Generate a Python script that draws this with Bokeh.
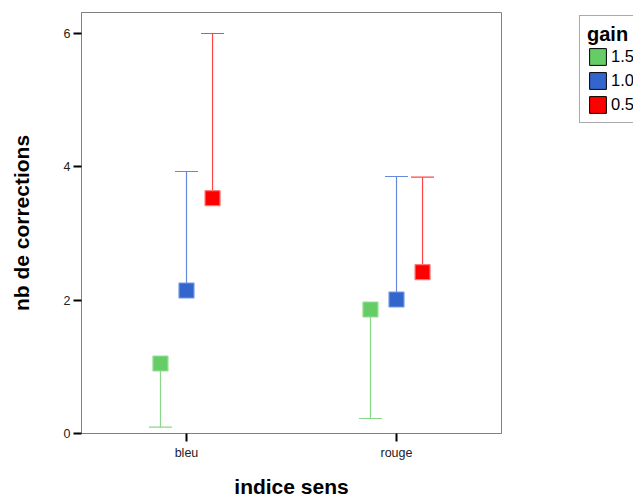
from bokeh.plotting import figure
from bokeh.layouts import row
from bokeh.models import FactorRange, Range1d, ColumnDataSource, Legend, LegendItem, FixedTicker
from bokeh.transform import dodge
from bokeh.embed import file_html
from bokeh.resources import INLINE

# ---- data ----
categories = ["bleu", "rouge"]
gains = ["1.5", "1.0", "0.5"]
mean_15 = [1.05, 1.86]
end_15 = [0.095, 0.225]     # whisker end (drawn downward)
mean_10 = [2.145, 2.01]
end_10 = [3.93, 3.855]      # whisker end (drawn upward)
mean_05 = [3.53, 2.42]
end_05 = [6.0, 3.845]
y_ticks = [0, 2, 4, 6]

FONT = "Liberation Sans"

p = figure(width=577, height=500, output_backend="svg", toolbar_location=None,
           x_range=FactorRange(factors=categories), y_range=Range1d(0, 6.315),
           min_border_left=81, min_border_right=76, min_border_top=12, min_border_bottom=67)

p.xgrid.visible = False
p.ygrid.visible = False
p.outline_line_color = "#808080"
p.outline_line_width = 1
p.background_fill_color = "white"
p.border_fill_color = "white"

series = [
    (mean_15, end_15, "#66CC66", "#99DD99", "#88D888", -0.124),
    (mean_10, end_10, "#3366CC", "#7799DD", "#6688DD", 0.0),
    (mean_05, end_05, "#FF0000", "#FF7777", "#FF4444", 0.124),
]

for (means, ends, fill, edge, wcol, off) in series:
    src = ColumnDataSource(dict(cat=categories, mean=means, end=ends))
    xd = dodge("cat", off, range=p.x_range)
    p.segment(x0=xd, y0="mean", x1=xd, y1="end", source=src, line_color=wcol, line_width=1.2)
    p.scatter(x=xd, y="end", source=src, marker="dash", size=23, line_color=wcol, line_width=1.2)
    p.scatter(x=xd, y="mean", source=src, marker="square", size=15,
              fill_color=fill, line_color=edge, line_width=1.2)

for ax in (p.xaxis[0], p.yaxis[0]):
    ax.axis_line_color = "#808080"
    ax.major_tick_line_color = "black"
    ax.major_tick_line_width = 2
    ax.major_tick_out = 8
    ax.major_tick_in = 0
    ax.minor_tick_line_color = None
    ax.major_label_text_font = FONT
    ax.major_label_text_font_size = "12.5px"
    ax.major_label_text_color = "#222222"
    ax.axis_label_text_font = FONT
    ax.axis_label_text_font_style = "bold"
    ax.axis_label_text_font_size = "21px"
    ax.axis_label_text_color = "black"

p.yaxis.ticker = FixedTicker(ticks=y_ticks)
p.yaxis.major_label_standoff = 3
p.yaxis.axis_label = "nb de corrections"
p.yaxis.axis_label_standoff = 28
p.xaxis.major_label_standoff = 4
p.xaxis.axis_label = "indice sens"
p.xaxis.axis_label_standoff = 12

# ---- legend panel (at the window's right edge, as in the reference) ----
lp = figure(width=56, height=500, output_backend="svg", toolbar_location=None,
            x_range=Range1d(0, 1), y_range=Range1d(0, 1),
            x_axis_type=None, y_axis_type=None, min_border=0)
lp.outline_line_color = None
lp.background_fill_color = "white"
lp.border_fill_color = "white"
lp.xgrid.visible = False
lp.ygrid.visible = False

legend_items = []
for (means, ends, fill, edge, wcol, off), g in zip(series, gains):
    dummy = lp.quad(left=[5], right=[6], top=[6], bottom=[5], fill_color=fill,
                    line_color="black", line_width=1)
    legend_items.append(LegendItem(label=g, renderers=[dummy]))

legend = Legend(items=legend_items, location=(2, 310), title="gain",
                title_text_font=FONT, title_text_font_style="bold", title_text_font_size="20px",
                title_text_color="black", title_standoff=0, title_text_line_height=1.6,
                label_text_font=FONT, label_text_font_size="16.5px", label_text_color="black",
                glyph_width=21, glyph_height=21, label_height=21, spacing=3,
                label_standoff=3, padding=7, margin=0,
                border_line_color="#555555", border_line_width=1,
                background_fill_color="white", background_fill_alpha=1)
lp.add_layout(legend, "center")

layout = row(p, lp, spacing=0)
open("out.html", "w").write(file_html(layout, INLINE))
